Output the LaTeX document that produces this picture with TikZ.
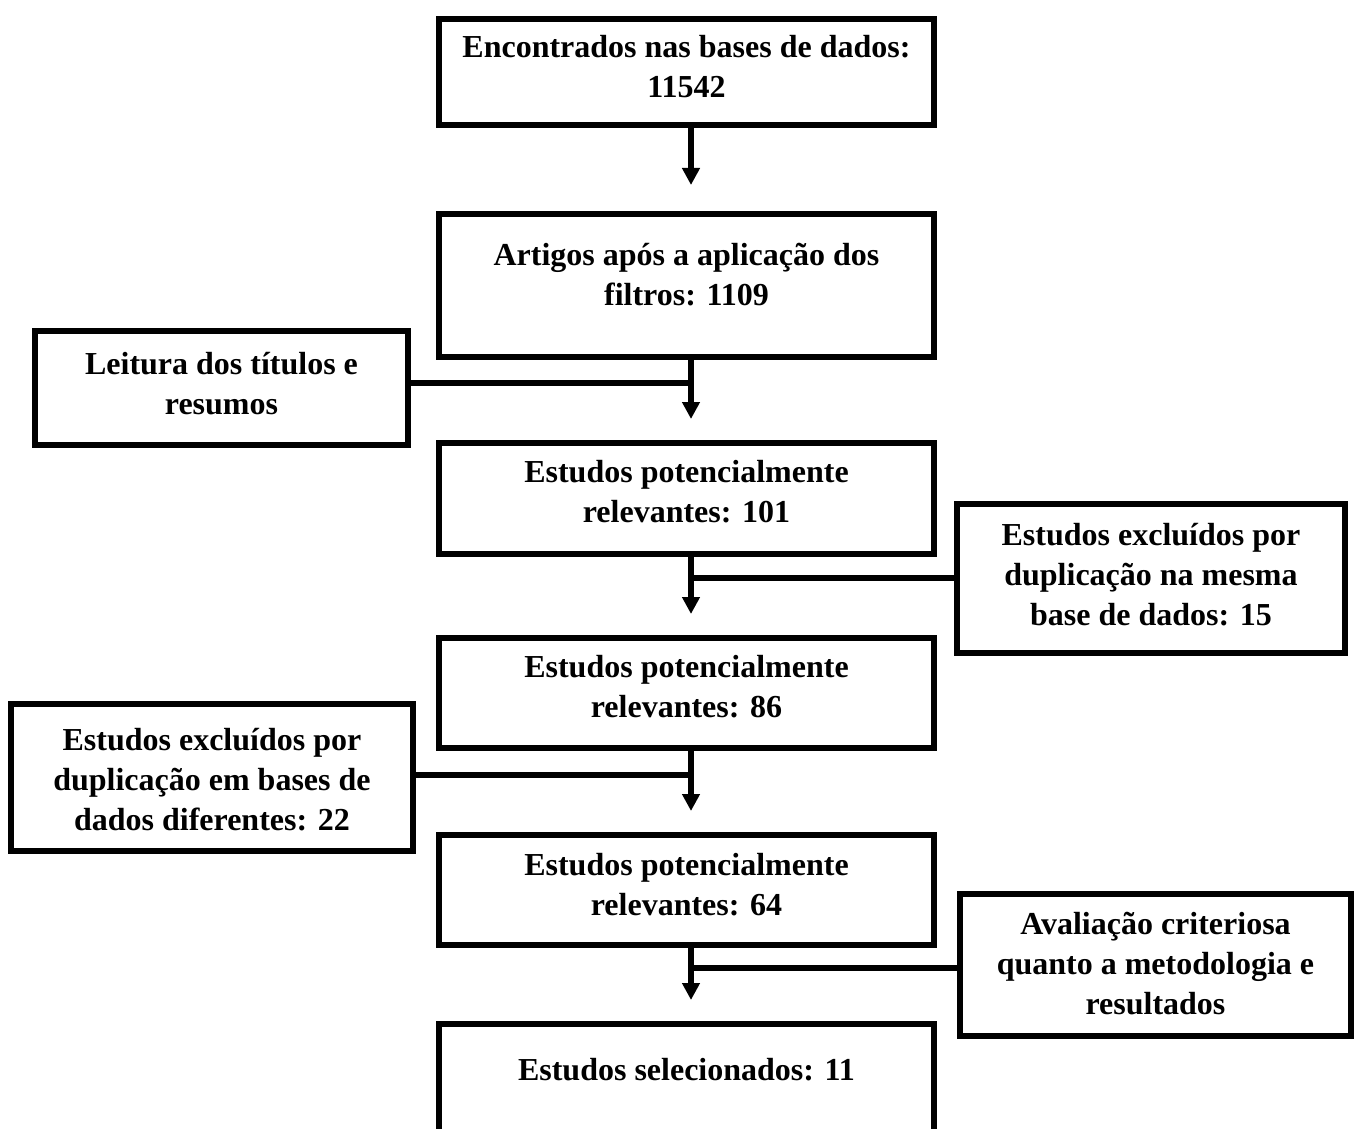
\documentclass[tikz,border=0pt]{standalone}
\usepackage{fontspec}
\setmainfont{Liberation Serif}
\usetikzlibrary{arrows.meta}

\tikzset{
	caixa/.style={draw, line width=2.9pt, align=center, anchor=north, inner xsep=0pt, inner ysep=0pt, font=\bfseries\fontsize{16}{20}\selectfont},
	seta/.style={line width=2.9pt, -{Triangle[width=8.5pt, length=8.5pt]}, shorten >=10.5pt},
	ligacao/.style={line width=2.9pt}
}

\begin{document}
\begin{tikzpicture}[x=0.5pt, y=-0.5pt]
		\clip (0,0) rectangle (1355,1129);
		% coluna central
		\node[caixa, minimum width=247.5pt, text height=39.5pt, text depth=13.5pt] (b1) at (686.5,16) {Encontrados nas bases de dados:\\11542};
		\node[caixa, minimum width=247.5pt, text height=46pt, text depth=25.5pt] (b2) at (686.5,211) {Artigos após a aplicação dos\\filtros: 1109};
		\node[caixa, minimum width=247.5pt, text height=40pt, text depth=15.5pt] (b3) at (686.5,440) {Estudos potencialmente\\relevantes: 101};
		\node[caixa, minimum width=247.5pt, text height=40pt, text depth=15pt] (b4) at (686.5,635) {Estudos potencialmente\\relevantes: 86};
		\node[caixa, minimum width=247.5pt, text height=40.5pt, text depth=14.5pt] (b5) at (686.5,832) {Estudos potencialmente\\relevantes: 64};
		\node[caixa, minimum width=247.5pt, text height=28.5pt, text depth=51pt] (b6) at (686.5,1021) {Estudos selecionados: 11};
		% caixas laterais
		\node[caixa, minimum width=186.5pt, text height=42pt, text depth=15pt] (l1) at (221.5,328) {Leitura dos títulos e\\resumos};
		\node[caixa, minimum width=194pt, text height=61pt, text depth=13.5pt] (r1) at (1151,501) {Estudos excluídos por\\duplicação na mesma\\base de dados: 15};
		\node[caixa, minimum width=201pt, text height=63.5pt, text depth=10pt] (l2) at (212,701) {Estudos excluídos por\\duplicação em bases de\\dados diferentes: 22};
		\node[caixa, minimum width=195.5pt, text height=60.5pt, text depth=10.5pt] (r2) at (1155.5,891) {Avaliação criteriosa\\quanto a metodologia e\\resultados};
		\coordinate (eixo) at (691,0);
		\coordinate (j1) at (691,383);
		\coordinate (j2) at (691,578);
		\coordinate (j3) at (691,775);
		\coordinate (j4) at (691,968);
		\draw[seta, shorten >=13pt] (b1.south -| eixo) -- (b2.north -| eixo);
		\draw[seta] (b2.south -| eixo) -- (b3.north -| eixo);
		\draw[seta] (b3.south -| eixo) -- (b4.north -| eixo);
		\draw[seta] (b4.south -| eixo) -- (b5.north -| eixo);
		\draw[seta] (b5.south -| eixo) -- (b6.north -| eixo);
		\draw[ligacao] (l1.east |- j1) -- (j1);
		\draw[ligacao] (r1.west |- j2) -- (j2);
		\draw[ligacao] (l2.east |- j3) -- (j3);
		\draw[ligacao] (r2.west |- j4) -- (j4);
	\end{tikzpicture}
\end{document}
